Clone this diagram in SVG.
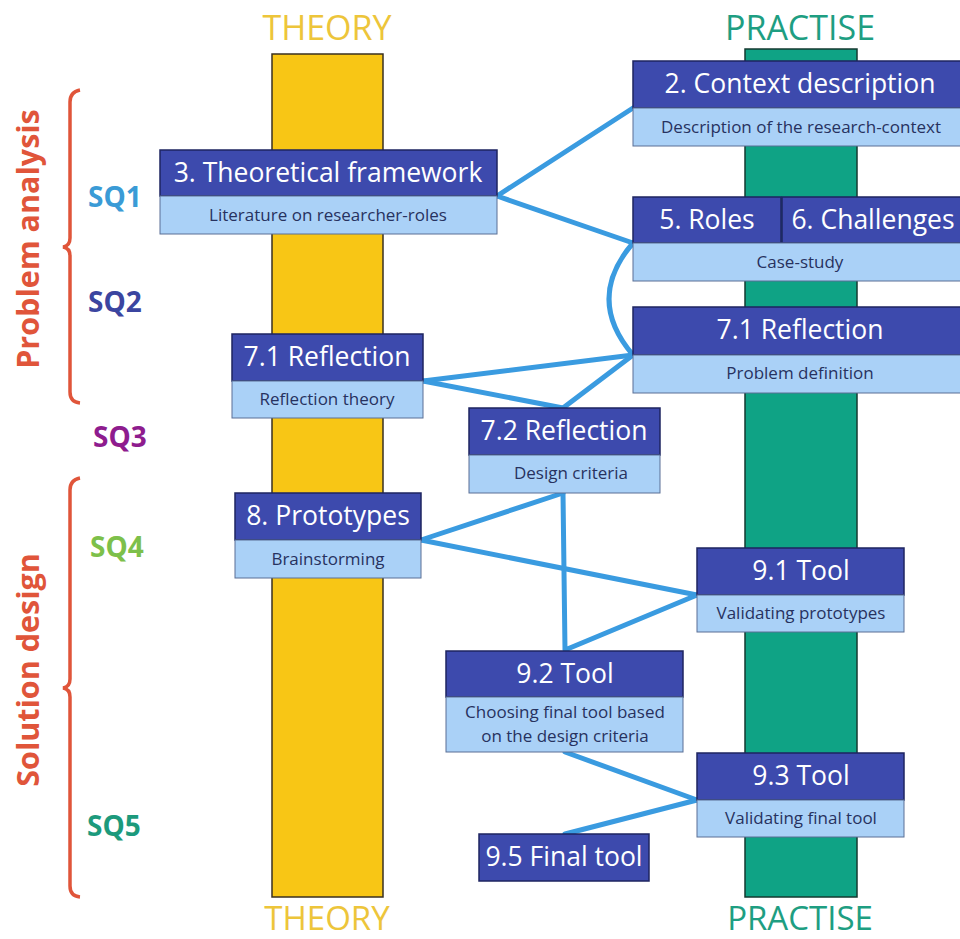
<svg xmlns="http://www.w3.org/2000/svg" width="960" height="939" viewBox="0 0 960 939">
<style>
text{font-family:"Open Sans","Noto Sans","Liberation Sans",sans-serif}
.hd{fill:#3D4AAD;stroke:#1E2560;stroke-width:1.5}
.sb{fill:#AAD1F7;stroke:#5A6F95;stroke-width:1}
.ht{fill:#fff;font-size:26.5px;text-anchor:middle}
.st{fill:#27325F;font-size:17px;text-anchor:middle}
.con{fill:none;stroke:#3A9BE0;stroke-width:5;stroke-linejoin:round;stroke-linecap:round}
.brace{fill:none;stroke:#E0553A;stroke-width:3.5}
.sq{font-size:28px;font-weight:bold}
.col{font-size:34px;text-anchor:middle}
.colb{font-size:33px;text-anchor:middle}
.sec{fill:#E0553A;font-size:30.5px;font-weight:bold;text-anchor:middle}
</style>
<rect width="960" height="939" fill="#fff"/>
<g id="columns">
<rect x="272" y="54" width="111" height="843" fill="#F8C615" stroke="#3a3020" stroke-width="1.5"/>
<rect x="745" y="49" width="112" height="848" fill="#0FA385" stroke="#153a30" stroke-width="1.5"/>
<text class="col" x="327" y="40" fill="#EDC53A">THEORY</text>
<text class="col" x="800" y="40" fill="#1E9E82">PRACTISE</text>
<text class="colb" x="327" y="930" fill="#EDC53A">THEORY</text>
<text class="colb" x="800" y="930" fill="#1E9E82">PRACTISE</text>
</g>
<g id="sections">
<text class="sec" transform="translate(39,239) rotate(-90)">Problem analysis</text>
<text class="sec" transform="translate(39,670) rotate(-90)">Solution design</text>
<path class="brace" d="M80,90 Q70,92 70,102 L70,238 Q70,246 63,247 Q70,248 70,256 L70,392 Q70,402 80,403"/>
<path class="brace" d="M80,478 Q70,480 70,490 L70,679 Q70,687 63,688 Q70,689 70,697 L70,886 Q70,896 80,897"/>
<text class="sq" x="88" y="207" fill="#3A9BD6">SQ1</text>
<text class="sq" x="88" y="312" fill="#3B45A0">SQ2</text>
<text class="sq" x="93" y="447" fill="#8E1C8E">SQ3</text>
<text class="sq" x="90" y="557" fill="#7DC04A">SQ4</text>
<text class="sq" x="87" y="836" fill="#1C9A7C">SQ5</text>
</g>
<g id="connectors">
<path class="con" d="M497,196 L633,108"/>
<path class="con" d="M497,196 L633,243"/>
<path class="con" d="M633,243 Q585,299 633,355"/>
<path class="con" d="M423,381 L633,355"/>
<path class="con" d="M423,381 L563,408"/>
<path class="con" d="M633,355 L563,408"/>
<path class="con" d="M563,493 L421,540"/>
<path class="con" d="M421,540 L697,595"/>
<path class="con" d="M563,493 L565,650 L697,595"/>
<path class="con" d="M565,752 L697,800"/>
<path class="con" d="M697,800 L565,834"/>
</g>
<g id="n2">
<rect class="hd" x="633" y="61" width="330" height="47"/>
<rect class="sb" x="633" y="108" width="330" height="38"/>
<text class="ht" x="800" y="93">2. Context description</text>
<text class="st" x="801" y="133">Description of the research-context</text>
</g>
<g id="n3">
<rect class="hd" x="160" y="150" width="337" height="46"/>
<rect class="sb" x="160" y="196" width="337" height="38"/>
<text class="ht" x="328" y="182">3. Theoretical framework</text>
<text class="st" x="328" y="221">Literature on researcher-roles</text>
</g>
<g id="n5">
<rect class="hd" x="633" y="197" width="148" height="46"/>
<text class="ht" x="707" y="229">5. Roles</text>
</g>
<g id="n6">
<rect class="hd" x="782" y="197" width="181" height="46"/>
<text class="ht" x="873" y="229">6. Challenges</text>
</g>
<g id="n56sub">
<rect class="sb" x="633" y="243" width="330" height="38"/>
<text class="st" x="800" y="268">Case-study</text>
</g>
<g id="n71r">
<rect class="hd" x="633" y="307" width="330" height="48"/>
<rect class="sb" x="633" y="355" width="330" height="38"/>
<text class="ht" x="800" y="339">7.1 Reflection</text>
<text class="st" x="800" y="379">Problem definition</text>
</g>
<g id="n71l">
<rect class="hd" x="232" y="334" width="191" height="47"/>
<rect class="sb" x="232" y="381" width="191" height="37"/>
<text class="ht" x="327" y="366">7.1 Reflection</text>
<text class="st" x="327" y="405">Reflection theory</text>
</g>
<g id="n72">
<rect class="hd" x="469" y="408" width="191" height="47"/>
<rect class="sb" x="469" y="455" width="191" height="38"/>
<text class="ht" x="564" y="440">7.2 Reflection</text>
<text class="st" x="571" y="479">Design criteria</text>
</g>
<g id="n8">
<rect class="hd" x="235" y="493" width="186" height="47"/>
<rect class="sb" x="235" y="540" width="186" height="38"/>
<text class="ht" x="328" y="525">8. Prototypes</text>
<text class="st" x="328" y="565">Brainstorming</text>
</g>
<g id="n91">
<rect class="hd" x="697" y="548" width="207" height="47"/>
<rect class="sb" x="697" y="595" width="207" height="37"/>
<text class="ht" x="801" y="580">9.1 Tool</text>
<text class="st" x="801" y="619">Validating prototypes</text>
</g>
<g id="n92">
<rect class="hd" x="446" y="651" width="237" height="46"/>
<rect class="sb" x="446" y="697" width="237" height="55"/>
<text class="ht" x="565" y="683">9.2 Tool</text>
<text class="st" x="565" y="718">Choosing final tool based</text>
<text class="st" x="565" y="742">on the design criteria</text>
</g>
<g id="n93">
<rect class="hd" x="697" y="753" width="207" height="47"/>
<rect class="sb" x="697" y="800" width="207" height="37"/>
<text class="ht" x="801" y="785">9.3 Tool</text>
<text class="st" x="801" y="824">Validating final tool</text>
</g>
<g id="n95">
<rect class="hd" x="479" y="834" width="170" height="47"/>
<text class="ht" x="564" y="866">9.5 Final tool</text>
</g>
</svg>
